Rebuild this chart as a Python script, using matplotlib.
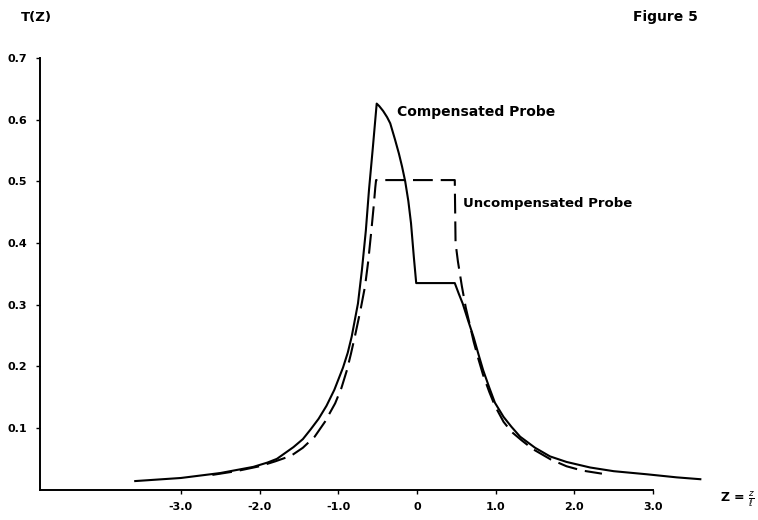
import matplotlib.pyplot as plt

# solid curve: compensated probe
z_comp = [-3.58, -3.0, -2.5, -2.08, -1.9, -1.78, -1.57, -1.45, -1.35, -1.25, -1.15,
          -1.05, -0.94, -0.88, -0.83, -0.75, -0.70, -0.65, -0.61, -0.56, -0.512,
          -0.48, -0.43, -0.38, -0.34, -0.28, -0.23, -0.19, -0.15, -0.11, -0.076,
          -0.04, -0.01, 0.48, 0.53, 0.58, 0.65, 0.72, 0.78, 0.84, 0.92, 0.99,
          1.1, 1.2, 1.31, 1.5, 1.69, 1.9, 2.2, 2.5, 2.92, 3.3, 3.6]
t_comp = [0.014, 0.019, 0.027, 0.037, 0.044, 0.050, 0.069, 0.082, 0.098, 0.115, 0.136,
          0.162, 0.198, 0.222, 0.248, 0.302, 0.356, 0.420, 0.486, 0.556, 0.626,
          0.622, 0.614, 0.604, 0.594, 0.568, 0.545, 0.524, 0.500, 0.468, 0.432,
          0.377, 0.335, 0.335, 0.318, 0.302, 0.274, 0.247, 0.220, 0.194, 0.165, 0.141,
          0.118, 0.102, 0.086, 0.068, 0.054, 0.045, 0.036, 0.030, 0.025, 0.020, 0.017]

# dashed curve: uncompensated probe
z_unc = [-2.6, -2.3, -2.0, -1.8, -1.6, -1.45, -1.3, -1.17, -1.04, -0.96, -0.89,
         -0.84, -0.79, -0.72, -0.66, -0.62, -0.58, -0.55, -0.53, -0.52,
         0.48, 0.49, 0.52, 0.57, 0.62, 0.67, 0.72, 0.78, 0.84, 0.92, 0.99,
         1.1, 1.2, 1.33, 1.47, 1.7, 1.9, 2.1, 2.35]
t_unc = [0.024, 0.030, 0.038, 0.046, 0.055, 0.068, 0.086, 0.110, 0.140, 0.165, 0.194,
         0.220, 0.248, 0.290, 0.330, 0.370, 0.420, 0.460, 0.490, 0.502,
         0.502, 0.400, 0.370, 0.330, 0.295, 0.268, 0.240, 0.212, 0.186, 0.158, 0.136,
         0.110, 0.094, 0.080, 0.066, 0.049, 0.038, 0.031, 0.026]

xticks = [-3, -2, -1, 0, 1, 2, 3]
xtick_labels = ["-3.0", "-2.0", "-1.0", "0", "1.0", "2.0", "3.0"]
yticks = [0.1, 0.2, 0.3, 0.4, 0.5, 0.6, 0.7]
ytick_labels = ["0.1", "0.2", "0.3", "0.4", "0.5", "0.6", "0.7"]

W, H = 758, 520
fig = plt.figure(figsize=(W / 100, H / 100), dpi=100)
ax = fig.add_axes([40 / W, (H - 489.7) / H, 700 / W, 444.7 / H])

ax.plot(z_comp, t_comp, color="black", lw=1.5)
dash, = ax.plot(z_unc, t_unc, color="black", lw=1.5)
dash.set_dashes([9.5, 3.8])

ax.set_xlim(-4.79, 4.104)
ax.set_ylim(0, 0.721)

for s in ["top", "right"]:
    ax.spines[s].set_visible(False)
ax.spines["left"].set_bounds(0, 0.7)
ax.spines["bottom"].set_bounds(-4.79, 3.0)
ax.spines["left"].set_linewidth(1.4)
ax.spines["bottom"].set_linewidth(1.4)

ax.set_xticks(xticks)
ax.set_xticklabels(xtick_labels, fontsize=8, fontweight="bold")
ax.set_yticks(yticks)
ax.set_yticklabels(ytick_labels, fontsize=8, fontweight="bold")
ax.tick_params(length=3, width=1, pad=6)

# annotations
fig.text(36 / W, 1 - 18 / H, "T(Z)", fontsize=9.5, fontweight="bold", ha="center", va="center")
fig.text(665 / W, 1 - 17 / H, "Figure 5", fontsize=10, fontweight="bold", ha="center", va="center")
fig.text(397 / W, 1 - 112 / H, "Compensated Probe", fontsize=10, fontweight="bold", va="center")
fig.text(463 / W, 1 - 204 / H, "Uncompensated Probe", fontsize=9.5, fontweight="bold", va="center")
fig.text(720 / W, 1 - 500 / H, r"Z = $\frac{z}{\ell}$", fontsize=9, fontweight="bold", va="center")

fig.savefig("out.png", dpi=100)
